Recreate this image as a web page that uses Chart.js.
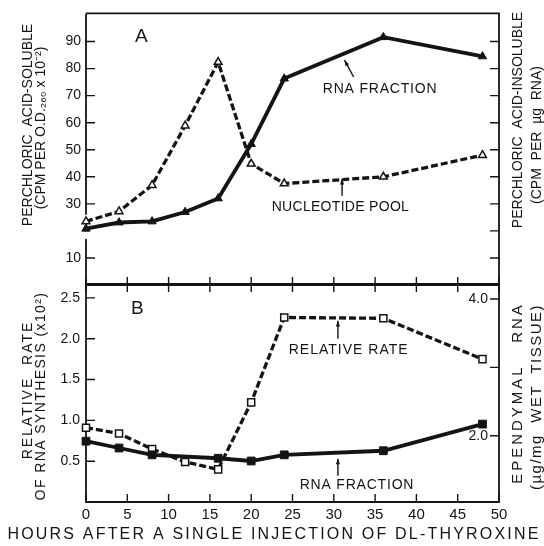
<!DOCTYPE html>
<html>
<head>
<meta charset="utf-8">
<script src="https://cdn.jsdelivr.net/npm/chart.js@4.4.0/dist/chart.umd.min.js"></script>
<style>
  html, body { margin: 0; padding: 0; background: #fff; }
  #wrap { position: relative; width: 544px; height: 546px; overflow: hidden; }
  #wrap canvas { position: absolute; left: 0; top: 0; }
</style>
</head>
<body>
<div id="wrap">
  <canvas id="chartA" width="544" height="546"></canvas>
  <canvas id="chartB" width="544" height="546"></canvas>
</div>
<script>
const INK = '#141414';
const FONT = "'Liberation Sans', Arial, Helvetica, sans-serif";

// 1. data
const hours = [0, 4, 8, 12, 16, 20, 24, 36, 48];

// panel A
const rnaFractionA = [20.8, 23.1, 23.5, 27.0, 32.0, 52.1, 76.3, 91.6, 84.5];
const nucleotidePool = [23.5, 27.2, 36.9, 58.9, 82.4, 44.8, 37.5, 40.0, 48.0];

// panel B
const relativeRate = [0.91, 0.84, 0.65, 0.49, 0.40, 1.22, 2.26, 2.25, 1.75];
const rnaHoursB = [0, 4, 8, 16, 20, 24, 36, 48];
const rnaFractionB = [1.92, 1.82, 1.72, 1.67, 1.63, 1.72, 1.78, 2.17];

// ticks
const xTickValues = [0, 5, 10, 15, 20, 25, 30, 35, 40, 45, 50];
const aLeftTicks = [10, 30, 40, 50, 60, 70, 80, 90];
const aRightTicks = [10, 20, 30, 40, 50, 60, 70, 80, 90];
const bLeftTicks = [0.5, 1.0, 1.5, 2.0, 2.5];
const bRightTicks = [2.0, 3.0, 4.0];
const bRightLabels = ['2.0', '', '4.0'];

function pts(xs, ys) {
  return xs.map((x, i) => ({ x: x, y: ys[i] }));
}

// 2. frame, inward ticks, labels and arrows
const deco = {
  id: 'deco',
  beforeDatasetsDraw(chart, args, o) {
    const ctx = chart.ctx, a = chart.chartArea;
    const sx = chart.scales.x, sy = chart.scales.y, sy2 = chart.scales.y2;
    ctx.save();
    ctx.strokeStyle = INK;
    ctx.lineWidth = 1.8;
    ctx.beginPath();
    ctx.moveTo(a.left, a.top);
    ctx.lineTo(a.right, a.top);
    ctx.lineTo(a.right, a.bottom);
    ctx.lineTo(a.left, a.bottom);
    if (o.leftBreak) {
      ctx.lineTo(a.left, sy.getPixelForValue(o.leftBreak[0]));
      ctx.moveTo(a.left, sy.getPixelForValue(o.leftBreak[1]));
    }
    ctx.lineTo(a.left, a.top);
    ctx.stroke();

    ctx.lineWidth = 1.4;
    ctx.beginPath();
    xTickValues.forEach(v => {
      const px = sx.getPixelForValue(v);
      if (o.xTop) { ctx.moveTo(px, a.top); ctx.lineTo(px, a.top + 8); }
      if (o.xBottom) { ctx.moveTo(px, a.bottom); ctx.lineTo(px, a.bottom - 8); }
    });
    o.leftTicks.forEach(v => {
      const py = sy.getPixelForValue(v);
      ctx.moveTo(a.left, py); ctx.lineTo(a.left + 9, py);
    });
    o.rightTicks.forEach(v => {
      const py = sy2.getPixelForValue(v);
      ctx.moveTo(a.right, py); ctx.lineTo(a.right - 9, py);
    });
    ctx.stroke();

    // right axis labels sit inside the frame
    ctx.fillStyle = INK;
    ctx.font = '14px ' + FONT;
    ctx.textAlign = 'right';
    ctx.textBaseline = 'middle';
    (o.rightLabels || []).forEach((t, i) => {
      if (t) ctx.fillText(t, a.right - 11, sy2.getPixelForValue(o.rightTicks[i]));
    });
    ctx.restore();
  },
  afterDatasetsDraw(chart, args, o) {
    const ctx = chart.ctx;
    const sx = chart.scales.x, sy = chart.scales.y;
    ctx.save();
    ctx.fillStyle = INK;
    ctx.strokeStyle = INK;

    // in-plot notes
    (o.notes || []).forEach(n => {
      ctx.font = n.font;
      ctx.letterSpacing = (n.spacing || 0) + 'px';
      ctx.textAlign = 'center';
      ctx.textBaseline = 'middle';
      ctx.fillText(n.text, sx.getPixelForValue(n.x), sy.getPixelForValue(n.y));
    });

    // arrows, head at the second point
    (o.arrows || []).forEach(r => {
      const x1 = sx.getPixelForValue(r.x1), y1 = sy.getPixelForValue(r.y1);
      const x2 = sx.getPixelForValue(r.x2), y2 = sy.getPixelForValue(r.y2);
      ctx.lineWidth = 1.4;
      ctx.beginPath();
      ctx.moveTo(x1, y1);
      ctx.lineTo(x2, y2);
      ctx.stroke();
      const ang = Math.atan2(y2 - y1, x2 - x1);
      ctx.beginPath();
      ctx.moveTo(x2, y2);
      ctx.lineTo(x2 - 6 * Math.cos(ang - 0.35), y2 - 6 * Math.sin(ang - 0.35));
      ctx.lineTo(x2 - 6 * Math.cos(ang + 0.35), y2 - 6 * Math.sin(ang + 0.35));
      ctx.closePath();
      ctx.fill();
    });

    // axis titles (page coordinates)
    (o.titles || []).forEach(t => {
      ctx.save();
      ctx.font = t.font;
      ctx.letterSpacing = (t.spacing || 0) + 'px';
      ctx.textAlign = 'center';
      ctx.textBaseline = 'middle';
      ctx.translate(t.x, t.y);
      if (t.rot) ctx.rotate(t.rot);
      ctx.fillText(t.text, 0, 0);
      ctx.restore();
    });
    ctx.restore();
  }
};

// 3. panel A
new Chart(document.getElementById('chartA'), {
  type: 'line',
  data: {
    datasets: [
      {
        data: pts(hours, rnaFractionA),
        borderColor: INK,
        borderWidth: 3.8,
        pointStyle: 'triangle',
        pointRadius: 4.8,
        pointBackgroundColor: INK,
        pointBorderColor: INK,
        pointBorderWidth: 1,
        clip: false
      },
      {
        data: pts(hours, nucleotidePool),
        borderColor: INK,
        borderWidth: 3.3,
        borderDash: [7, 3],
        pointStyle: 'triangle',
        pointRadius: 4.5,
        pointBackgroundColor: '#fff',
        pointBorderColor: INK,
        pointBorderWidth: 1.5,
        clip: false
      }
    ]
  },
  options: {
    responsive: false,
    animation: false,
    events: [],
    layout: { padding: { top: 11, right: 45, bottom: 261, left: 0 } },
    plugins: {
      legend: { display: false },
      tooltip: { enabled: false },
      deco: {
        leftBreak: [17, 26],
        xTop: false,
        xBottom: true,
        leftTicks: aLeftTicks,
        rightTicks: aRightTicks,
        notes: [
          { text: 'A', x: 6.7, y: 91.6, font: '19px ' + FONT },
          { text: 'RNA FRACTION', x: 35.6, y: 72.3, font: '14px ' + FONT, spacing: 0.8 },
          { text: 'NUCLEOTIDE POOL', x: 30.8, y: 28.8, font: '14px ' + FONT, spacing: 0.3 }
        ],
        arrows: [
          { x1: 32.4, y1: 76.9, x2: 31.3, y2: 83.1 },
          { x1: 31.0, y1: 33.0, x2: 31.0, y2: 39.2 }
        ],
        titles: [
          { text: 'PERCHLORIC  ACID-SOLUBLE', x: 28.5, y: 125, rot: -Math.PI / 2, font: '14px ' + FONT },
          { text: '(CPM PER O.D.\u2082\u2086\u2080 x 10\u207B\u00B2)', x: 41.5, y: 128, rot: -Math.PI / 2, font: '14px ' + FONT },
          { text: 'PERCHLORIC  ACID-INSOLUBLE', x: 518, y: 120, rot: -Math.PI / 2, font: '14px ' + FONT },
          { text: '(CPM  PER  \u00B5g  RNA)', x: 537, y: 135, rot: -Math.PI / 2, font: '14px ' + FONT }
        ]
      }
    },
    scales: {
      x: { type: 'linear', min: 0, max: 50, display: false },
      y: {
        type: 'linear', min: 0, max: 100.4,
        afterBuildTicks: s => { s.ticks = aLeftTicks.map(v => ({ value: v })); },
        afterFit: s => { s.width = 86; },
        grid: { display: false, drawTicks: false },
        border: { display: false },
        ticks: { color: INK, padding: 5, font: { family: FONT, size: 14 } }
      },
      y2: { type: 'linear', position: 'right', min: 0, max: 100.4, display: false }
    }
  },
  plugins: [deco]
});

// 4. panel B
new Chart(document.getElementById('chartB'), {
  type: 'line',
  data: {
    datasets: [
      {
        data: pts(rnaHoursB, rnaFractionB),
        yAxisID: 'y2',
        borderColor: INK,
        borderWidth: 3.8,
        pointStyle: 'rect',
        pointRadius: 5.5,
        pointBackgroundColor: INK,
        pointBorderColor: INK,
        pointBorderWidth: 1,
        clip: false
      },
      {
        data: pts(hours, relativeRate),
        yAxisID: 'y',
        borderColor: INK,
        borderWidth: 3.3,
        borderDash: [7, 3],
        pointStyle: 'rect',
        pointRadius: 5,
        pointBackgroundColor: '#fff',
        pointBorderColor: INK,
        pointBorderWidth: 1.5,
        clip: false
      }
    ]
  },
  options: {
    responsive: false,
    animation: false,
    events: [],
    layout: { padding: { top: 284, right: 45, bottom: 0, left: 0 } },
    plugins: {
      legend: { display: false },
      tooltip: { enabled: false },
      deco: {
        xTop: true,
        xBottom: true,
        leftTicks: bLeftTicks,
        rightTicks: bRightTicks,
        rightLabels: bRightLabels,
        notes: [
          { text: 'B', x: 6.2, y: 2.37, font: '19px ' + FONT },
          { text: 'RELATIVE RATE', x: 31.8, y: 1.86, font: '14px ' + FONT, spacing: 1 },
          { text: 'RNA FRACTION', x: 32.8, y: 0.21, font: '14px ' + FONT, spacing: 0.8 }
        ],
        arrows: [
          { x1: 30.5, y1: 2.0, x2: 30.5, y2: 2.22 },
          { x1: 30.5, y1: 0.32, x2: 30.5, y2: 0.53 }
        ],
        titles: [
          { text: 'RELATIVE  RATE', x: 28.5, y: 390, rot: -Math.PI / 2, font: '14px ' + FONT, spacing: 2 },
          { text: 'OF RNA SYNTHESIS (x10\u00B2)', x: 41.5, y: 396, rot: -Math.PI / 2, font: '14px ' + FONT, spacing: 1.4 },
          { text: 'EPENDYMAL   RNA', x: 518, y: 393, rot: -Math.PI / 2, font: '15px ' + FONT, spacing: 3 },
          { text: '(\u00B5g/mg  WET  TISSUE)', x: 537, y: 397, rot: -Math.PI / 2, font: '15px ' + FONT, spacing: 1.5 },
          { text: 'HOURS AFTER A SINGLE INJECTION OF DL-THYROXINE', x: 274, y: 535, font: '16px ' + FONT, spacing: 2.2 }
        ]
      }
    },
    scales: {
      x: {
        type: 'linear', min: 0, max: 50,
        afterBuildTicks: s => { s.ticks = xTickValues.map(v => ({ value: v })); },
        afterFit: s => { s.height = 44; },
        grid: { display: false, drawTicks: false },
        border: { display: false },
        ticks: { color: INK, padding: 4, maxRotation: 0, font: { family: FONT, size: 15 } }
      },
      y: {
        type: 'linear', min: 0, max: 2.67,
        afterBuildTicks: s => { s.ticks = bLeftTicks.map(v => ({ value: v })); },
        afterFit: s => { s.width = 86; },
        grid: { display: false, drawTicks: false },
        border: { display: false },
        ticks: { color: INK, padding: 6, font: { family: FONT, size: 14 }, callback: v => v.toFixed(1) }
      },
      y2: { type: 'linear', position: 'right', min: 1.03, max: 4.22, display: false }
    }
  },
  plugins: [deco]
});
</script>
</body>
</html>
